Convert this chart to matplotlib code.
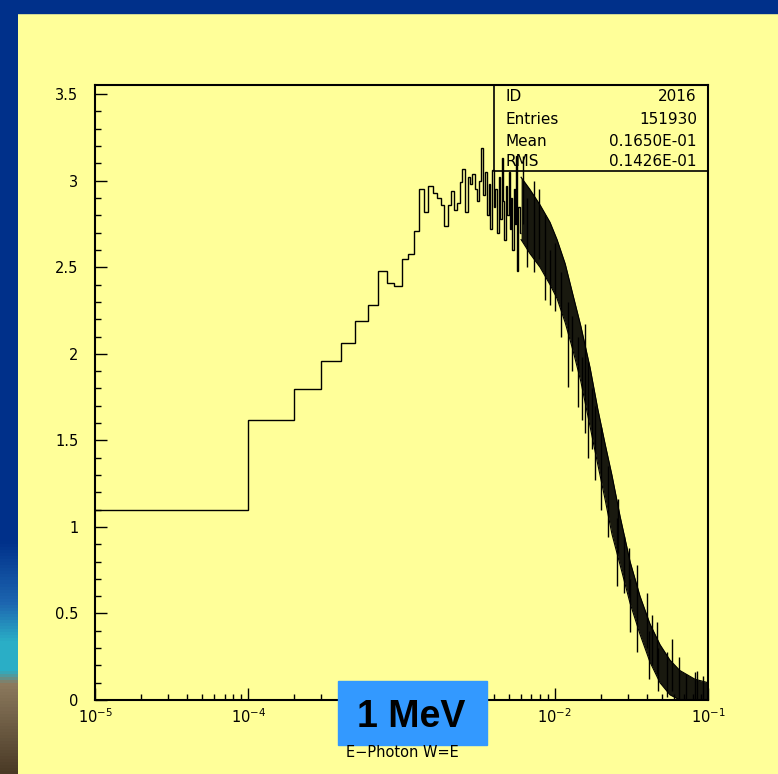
import numpy as np
import matplotlib
matplotlib.use("Agg")
import matplotlib.pyplot as plt
from matplotlib.patches import Rectangle
from matplotlib.colors import LinearSegmentedColormap
from matplotlib.ticker import MultipleLocator, LogLocator, NullFormatter

# PAW histogram 2016: photon energy spectrum weighted by E (1 MeV beam)
bin_width = 1e-4

# first 60 bins (0 .. 6e-3), read bin by bin
counts = [1.10, 1.62, 1.795, 1.96, 2.06, 2.19, 2.28, 2.48, 2.41, 2.39,
          2.55, 2.575, 2.71, 2.95, 2.82, 2.97, 2.93, 2.90, 2.86, 2.74,
          2.86, 2.94, 2.83, 2.87, 2.99, 3.07, 2.82, 3.02, 2.98, 3.04,
          2.95, 2.88, 3.00, 3.19, 2.92, 3.05, 2.80, 2.98, 2.72, 3.06,
          2.85, 2.95, 2.70, 3.02, 2.78, 3.13, 2.88, 2.66, 2.97, 2.80,
          3.05, 2.72, 2.90, 2.60, 2.95, 2.75, 3.14, 2.48, 2.85, 2.70]

# above 6e-3 the bins are narrower than a pixel: core band of the noise
band_e = [6.03e-3, 6.88e-3, 8.02e-3, 9.31e-3, 1.035e-2, 1.17e-2, 1.315e-2,
          1.48e-2, 1.70e-2, 1.91e-2, 2.13e-2, 2.36e-2, 2.67e-2, 3.10e-2,
          3.60e-2, 4.18e-2, 4.86e-2, 5.65e-2, 6.56e-2, 8.22e-2, 1e-1]
band_lo = [2.66, 2.58, 2.50, 2.40, 2.32, 2.18, 2.02, 1.84, 1.58, 1.36, 1.16,
           0.96, 0.78, 0.56, 0.38, 0.22, 0.10, 0.03, 0.0, 0.0, 0.0]
band_hi = [3.02, 2.95, 2.86, 2.76, 2.66, 2.52, 2.34, 2.16, 1.92, 1.68, 1.48,
           1.30, 1.06, 0.80, 0.60, 0.44, 0.32, 0.23, 0.17, 0.12, 0.10]

# single bins sticking out of the band
spike_e = [6.21e-3, 6.59e-3, 7.3e-3, 7.9e-3, 8.6e-3, 9.31e-3, 1.0e-2, 1.1e-2,
           1.22e-2, 1.3e-2, 1.42e-2, 1.5e-2, 1.57e-2, 1.65e-2, 1.75e-2,
           1.83e-2, 2.0e-2, 2.23e-2, 2.55e-2, 2.60e-2, 2.83e-2, 3.05e-2,
           3.10e-2, 3.44e-2, 4.00e-2, 4.12e-2, 4.31e-2, 4.65e-2, 4.72e-2,
           5.4e-2, 5.82e-2, 6.47e-2, 7.2e-2, 8.22e-2, 8.47e-2, 9.3e-2]
spike_lo = [2.75, 2.50, 2.47, 2.55, 2.31, 2.28, 2.25, 2.10, 1.81, 1.90, 1.69,
            1.62, 1.54, 1.40, 1.45, 1.27, 1.10, 0.94, 0.66, 0.85, 0.62, 0.60,
            0.39, 0.28, 0.30, 0.12, 0.20, 0.15, 0.05, 0.02, 0.05, 0.0, 0.0,
            0.0, 0.0, 0.0]
spike_hi = [3.14, 2.90, 3.00, 2.95, 2.80, 2.60, 2.64, 2.47, 2.30, 2.22, 2.10,
            1.98, 2.17, 1.95, 1.80, 1.70, 1.58, 1.35, 1.05, 1.16, 0.95, 0.88,
            0.70, 0.78, 0.62, 0.40, 0.49, 0.45, 0.30, 0.28, 0.35, 0.25, 0.15,
            0.16, 0.17, 0.14]

stats_names = ['ID', 'Entries', 'Mean', 'RMS']
stats_values = ['2016', '151930', '0.1650E-01', '0.1426E-01']

y_ticks = [0, 0.5, 1, 1.5, 2, 2.5, 3, 3.5]
y_tick_labels = ['0', '0.5', '1', '1.5', '2', '2.5', '3', '3.5']
x_ticks = [1e-5, 1e-4, 1e-3, 1e-2, 1e-1]
# the 10^-3 label sits under the "1 MeV" box on the slide
x_tick_labels = ['$10^{-5}$', '$10^{-4}$', '', '$10^{-2}$', '$10^{-1}$']

W, H = 778, 774
YELLOW = '#ffff99'
plt.rcParams['font.family'] = ['DejaVu Sans']

fig = plt.figure(figsize=(W / 100, H / 100), dpi=100, facecolor=YELLOW)

# slide background peeking out on the left and top
strip = fig.add_axes([0, 0, 18 / W, 1], zorder=-2)
stops = [(0.0, '#00308a'), (0.70, '#00308a'), (0.78, '#1d66b0'),
         (0.83, '#2aaec6'), (0.868, '#2aaec6'), (0.885, '#8c7a5e'),
         (1.0, '#4a3a26')]
cmap = LinearSegmentedColormap.from_list('slide', stops)
strip.imshow(np.linspace(0, 1, 256).reshape(-1, 1), cmap=cmap, aspect='auto')
strip.axis('off')
fig.patches.append(Rectangle((0, 1 - 13 / H), 1, 13 / H, transform=fig.transFigure,
                             color='#00308a', zorder=-1))

ax = fig.add_axes([95 / W, 1 - 700 / H, 613 / W, 615 / H])
ax.set_facecolor('none')
ax.set_xscale('log')
ax.set_xlim(1e-5, 1e-1)
ax.set_ylim(0, 3.553)

edges = np.arange(len(counts) + 1) * bin_width
edges[0] = 1e-5  # bin starts at 0, clipped at the log axis start
ax.stairs(counts, edges, color='black', lw=1.0, baseline=None)
ax.fill_between(band_e, band_lo, band_hi, color='black', alpha=0.9, lw=0)
ax.plot(band_e, band_hi, color='black', lw=0.8)
ax.plot(band_e, band_lo, color='black', lw=0.8)
ax.vlines(spike_e, spike_lo, spike_hi, color='black', lw=1.0)

ax.set_xticks(x_ticks, x_tick_labels)
ax.set_yticks(y_ticks, y_tick_labels)
ax.yaxis.set_minor_locator(MultipleLocator(0.1))
ax.xaxis.set_minor_locator(LogLocator(base=10, subs=np.arange(2, 10)))
ax.xaxis.set_minor_formatter(NullFormatter())
ax.tick_params(which='both', direction='in', top=False, right=False, width=1.0,
               labelsize=10.5)
ax.tick_params(which='major', length=8.6)
ax.tick_params(which='minor', length=4.3)
ax.tick_params(axis='y', pad=12)
ax.tick_params(axis='x', pad=5)
for sp in ax.spines.values():
    sp.set_linewidth(1.5)

# stats box
ax.add_patch(Rectangle((0.651, 0.860), 0.349, 0.140, transform=ax.transAxes,
                       fill=False, lw=1.2, ec='black', clip_on=False))
row_y = [0.9745, 0.9366, 0.9013, 0.8688]
for name, val, y in zip(stats_names, stats_values, row_y):
    ax.text(0.669, y, name, transform=ax.transAxes, fontsize=11, va='baseline')
    ax.text(0.982, y, val, transform=ax.transAxes, fontsize=11, va='baseline',
            ha='right')

fig.text(402 / W, 1 - 756.7 / H, 'E\u2212Photon W=E', ha='center', va='baseline',
         fontsize=10.5)

# slide label
fig.patches.append(Rectangle((338 / W, 1 - 745 / H), 149 / W, 64 / H,
                             transform=fig.transFigure, color='#3399ff', zorder=2))
fig.text(411 / W, 1 - 727.3 / H, '1 MeV', ha='center', va='baseline', fontsize=27,
         fontweight='bold', family='Liberation Sans', zorder=3)

fig.savefig('out.png', dpi=100, facecolor=YELLOW)
